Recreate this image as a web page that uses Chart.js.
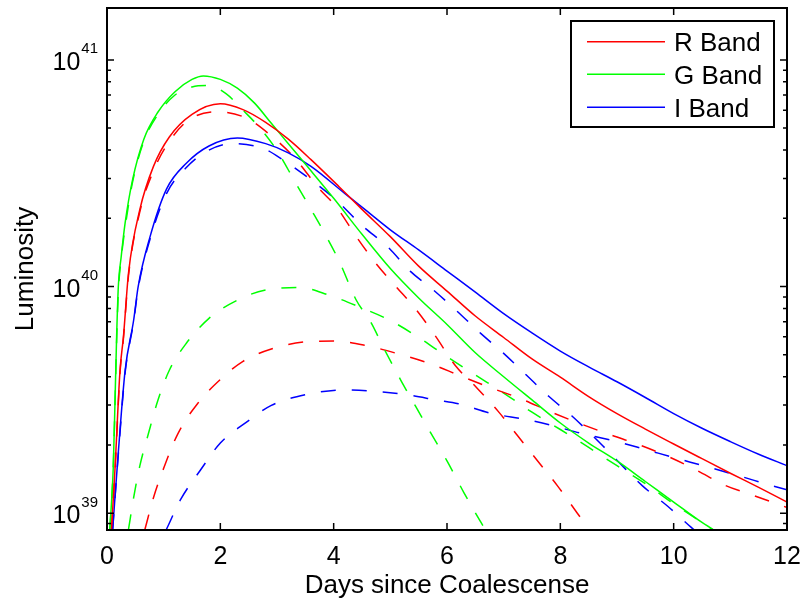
<!DOCTYPE html>
<html>
<head>
<meta charset="utf-8">
<script src="https://cdn.jsdelivr.net/npm/chart.js@4.4.0/dist/chart.umd.min.js"></script>
<style>
html,body{margin:0;padding:0;background:#fff;}
canvas{display:block;}
</style>
</head>
<body>
<canvas id="c" width="803" height="599"></canvas>
<script>
// ---- text / ticks ----
const xTitle = 'Days since Coalescense';
const yTitle = 'Luminosity';
const xTickValues = [0, 2, 4, 6, 8, 10, 12];
const yTickValues = [1e39, 1e40, 1e41];
const yTickBase = '10';
const yTickExponents = ['39', '40', '41'];
const legendLabels = ['R Band', 'G Band', 'I Band'];

// ---- series (days, luminosity) ----
// solid: total light curves
const rTotalX = [0.08,0.14,0.23,0.29,0.38,0.58,0.82,1.1,1.5,2.0,2.4,2.8,3.2,3.6,4.1,4.5,5.0,5.5,6.0,6.5,7.0,7.5,8.0,8.5,9.0,9.5,10.0,10.5,11.0,11.5,12.0];
const rTotalY = [8.5e38,1.55e39,4.27e39,6.0e39,1.15e40,2.19e40,3.39e40,4.57e40,5.75e40,6.4e40,6.03e40,5.3e40,4.47e40,3.63e40,2.75e40,2.19e40,1.66e40,1.23e40,9.55e39,7.41e39,5.96e39,4.79e39,3.98e39,3.27e39,2.75e39,2.35e39,2.02e39,1.74e39,1.5e39,1.3e39,1.12e39];

const gTotalX = [0.05,0.08,0.11,0.14,0.17,0.2,0.25,0.32,0.45,0.65,0.9,1.2,1.5,1.7,2.0,2.3,2.6,2.9,3.2,3.5,4.0,4.5,5.0,5.5,6.0,6.5,7.0,7.5,8.0,8.5,9.0,9.5,10.0,10.5,11.0];
const gTotalY = [8.5e38,1.12e39,1.58e39,3.02e39,6.03e39,1.0e40,1.35e40,1.91e40,2.95e40,4.47e40,5.89e40,7.24e40,8.2e40,8.5e40,8.2e40,7.5e40,6.46e40,5.25e40,4.27e40,3.47e40,2.45e40,1.7e40,1.2e40,8.9e39,6.8e39,5.1e39,4.0e39,3.16e39,2.5e39,2.04e39,1.7e39,1.38e39,1.12e39,9.1e38,7.6e38];

const iTotalX = [0.1,0.2,0.32,0.47,0.55,0.76,1.05,1.4,1.8,2.3,2.8,3.2,3.6,4.2,4.6,5.0,5.5,6.0,6.5,7.0,7.5,8.0,8.5,9.0,9.5,10.0,10.5,11.0,11.5,12.0];
const iTotalY = [8.5e38,1.86e39,4.27e39,7.1e39,1.0e40,1.66e40,2.69e40,3.5e40,4.17e40,4.52e40,4.27e40,3.89e40,3.39e40,2.57e40,2.14e40,1.78e40,1.45e40,1.17e40,9.44e39,7.59e39,6.24e39,5.19e39,4.42e39,3.8e39,3.24e39,2.75e39,2.37e39,2.07e39,1.82e39,1.62e39];

// dashed: early (fast) components
const rEarlyX = [0.08,0.14,0.23,0.29,0.38,0.58,0.82,1.1,1.45,1.95,2.45,2.9,3.3,3.75,4.05,4.4,4.75,5.1,5.45,5.8,6.15,6.5,6.9,7.25,7.6,7.95,8.3,8.6];
const rEarlyY = [8.5e38,1.51e39,4.17e39,5.9e39,1.12e40,2.14e40,3.24e40,4.37e40,5.45e40,5.9e40,5.55e40,4.62e40,3.72e40,2.69e40,2.24e40,1.66e40,1.26e40,1.0e40,7.94e39,6.03e39,4.47e39,3.63e39,2.82e39,2.19e39,1.7e39,1.32e39,1.0e39,7.9e38];

const gEarlyX = [0.05,0.11,0.14,0.17,0.2,0.25,0.32,0.45,0.65,0.9,1.2,1.5,1.8,2.1,2.4,2.7,3.0,3.3,3.6,3.85,4.1,4.4,4.65,4.9,5.2,5.45,5.7,6.0,6.3,6.6,6.9];
const gEarlyY = [8.5e38,1.58e39,2.95e39,5.75e39,9.5e39,1.32e40,1.82e40,2.88e40,4.37e40,5.75e40,7.0e40,7.6e40,7.7e40,7.1e40,6.0e40,5.0e40,3.98e40,2.95e40,2.19e40,1.7e40,1.29e40,8.7e39,7.0e39,5.25e39,3.8e39,2.95e39,2.29e39,1.7e39,1.23e39,9.1e38,6.8e38];

const iEarlyX = [0.1,0.2,0.32,0.47,0.55,0.76,1.05,1.4,1.75,2.2,2.75,3.1,3.55,4.05,4.5,4.95,5.35,5.75,6.15,6.6,7.0,7.4,7.8,8.2,8.7,9.05,9.45,9.9,10.3,10.5];
const iEarlyY = [8.5e38,1.82e39,4.17e39,7.0e39,9.8e39,1.62e40,2.57e40,3.35e40,3.94e40,4.27e40,4.07e40,3.63e40,3.02e40,2.4e40,1.86e40,1.5e40,1.17e40,9.7e39,7.9e39,6.2e39,5.07e39,4.07e39,3.27e39,2.69e39,2.04e39,1.66e39,1.32e39,1.07e39,8.7e38,7.9e38];

// dashed: late (slow) components
const rLateX = [0.67,0.82,1.0,1.25,1.6,2.0,2.4,2.9,3.5,4.0,4.6,5.1,5.7,6.2,6.7,7.3,7.8,8.3,8.9,9.4,9.9,10.4,10.9,11.4,12.0];
const rLateY = [8.5e38,1.17e39,1.58e39,2.24e39,3.05e39,3.89e39,4.68e39,5.3e39,5.7e39,5.75e39,5.47e39,5.08e39,4.57e39,4.07e39,3.63e39,3.2e39,2.82e39,2.51e39,2.21e39,2.0e39,1.78e39,1.55e39,1.33e39,1.2e39,1.06e39];

const gLateX = [0.38,0.47,0.58,0.73,0.9,1.1,1.4,1.8,2.3,2.8,3.4,3.9,4.5,5.0,5.5,6.0,6.5,7.0,7.5,8.0,8.5,9.0,9.5,10.0,10.5,10.8];
const gLateY = [8.5e38,1.17e39,1.62e39,2.24e39,3.16e39,4.27e39,5.62e39,7.24e39,8.71e39,9.66e39,9.9e39,9.2e39,8.04e39,7.08e39,5.96e39,4.9e39,4.07e39,3.39e39,2.79e39,2.34e39,1.95e39,1.62e39,1.35e39,1.1e39,9.1e38,8.1e38];

const iLateX = [1.05,1.3,1.65,2.0,2.45,2.9,3.5,4.2,4.8,5.4,5.8,6.2,6.8,7.4,7.9,8.4,9.0,9.5,10.0,10.6,11.2,11.7,12.0];
const iLateY = [8.5e38,1.15e39,1.55e39,2.04e39,2.51e39,2.99e39,3.33e39,3.5e39,3.44e39,3.3e39,3.16e39,3.04e39,2.75e39,2.59e39,2.42e39,2.24e39,2.07e39,1.91e39,1.76e39,1.6e39,1.45e39,1.33e39,1.27e39];

// ---- styling ----
const RED = '#ff0000', GREEN = '#00ff00', BLUE = '#0000ff';
const FONT = "'Liberation Sans', Arial, Helvetica, sans-serif";
const DASH = [15, 16];
const LW = 1.5;

function pts(xs, ys) { return xs.map((x, i) => ({ x: x, y: ys[i] })); }
function ds(label, xs, ys, color, dashed) {
  return {
    label: label,
    data: pts(xs, ys),
    borderColor: color,
    backgroundColor: color,
    borderWidth: LW,
    borderDash: dashed ? DASH : [],
    pointRadius: 0,
    fill: false,
    cubicInterpolationMode: 'monotone',
    clip: 0
  };
}

const datasets = [
  ds(legendLabels[0], rTotalX, rTotalY, RED, false),
  ds(legendLabels[1], gTotalX, gTotalY, GREEN, false),
  ds(legendLabels[2], iTotalX, iTotalY, BLUE, false),
  ds('R early', rEarlyX, rEarlyY, RED, true),
  ds('G early', gEarlyX, gEarlyY, GREEN, true),
  ds('I early', iEarlyX, iEarlyY, BLUE, true),
  ds('R late', rLateX, rLateY, RED, true),
  ds('G late', gLateX, gLateY, GREEN, true),
  ds('I late', iLateX, iLateY, BLUE, true)
];

const framePlugin = {
  id: 'matlabFrame',
  afterDraw(chart) {
    const ctx = chart.ctx;
    const a = chart.chartArea;
    const xs = chart.scales.x, ys = chart.scales.y;
    ctx.save();
    ctx.strokeStyle = '#000';
    ctx.lineWidth = 1.5;
    const major = 7, minor = 4;
    ctx.beginPath();
    xTickValues.forEach(v => {
      const px = xs.getPixelForValue(v);
      ctx.moveTo(px, a.bottom); ctx.lineTo(px, a.bottom - major);
      ctx.moveTo(px, a.top); ctx.lineTo(px, a.top + major);
    });
    for (let e = 38; e <= 41; e++) {
      for (let k = 1; k <= 9; k++) {
        const v = k * Math.pow(10, e);
        if (v < ys.min || v > ys.max) continue;
        const py = ys.getPixelForValue(v);
        const len = (k === 1) ? major : minor;
        ctx.moveTo(a.left, py); ctx.lineTo(a.left + len, py);
        ctx.moveTo(a.right, py); ctx.lineTo(a.right - len, py);
      }
    }
    ctx.stroke();
    ctx.lineWidth = 2;
    ctx.strokeRect(a.left, a.top, a.right - a.left, a.bottom - a.top);

    // y tick labels 10^n
    ctx.fillStyle = '#000';
    ctx.textBaseline = 'alphabetic';
    ctx.textAlign = 'right';
    yTickValues.forEach((v, i) => {
      const py = ys.getPixelForValue(v);
      ctx.font = '15px ' + FONT;
      const ew = ctx.measureText(yTickExponents[i]).width;
      ctx.fillText(yTickExponents[i], 98, py - 6.5);
      ctx.font = '25px ' + FONT;
      ctx.fillText(yTickBase, 98 - ew - 1, py + 10);
    });

    // legend
    const lx = 571, ly = 21, lw = 203, lh = 106;
    ctx.fillStyle = '#fff';
    ctx.fillRect(lx, ly, lw, lh);
    ctx.lineWidth = 2;
    ctx.strokeStyle = '#000';
    ctx.strokeRect(lx, ly, lw, lh);
    const rows = [41.7, 74.3, 107.3];
    const cols = [RED, GREEN, BLUE];
    ctx.textAlign = 'left';
    ctx.font = '26px ' + FONT;
    rows.forEach((ry, i) => {
      ctx.strokeStyle = cols[i];
      ctx.lineWidth = LW;
      ctx.beginPath();
      ctx.moveTo(587, ry); ctx.lineTo(665, ry);
      ctx.stroke();
      ctx.fillStyle = '#000';
      ctx.fillText(legendLabels[i], 674, ry + 9.5);
    });
    ctx.restore();
  }
};

new Chart(document.getElementById('c'), {
  type: 'line',
  data: { datasets: datasets },
  options: {
    responsive: false,
    animation: false,
    layout: { padding: { left: 0, right: 16, top: 8, bottom: 0 } },
    plugins: { legend: { display: false }, tooltip: { enabled: false } },
    scales: {
      x: {
        type: 'linear',
        min: 0, max: 12,
        afterBuildTicks: s => { s.ticks = xTickValues.map(v => ({ value: v })); },
        ticks: { autoSkip: false, maxRotation: 0, padding: 4, color: '#000', font: { family: FONT, size: 25 } },
        grid: { display: false },
        border: { display: false },
        title: { display: true, text: xTitle, color: '#000', font: { family: FONT, size: 26, lineHeight: 1.0 }, padding: { top: 0, bottom: 0 } },
        afterFit: s => { s.height = 69; s.paddingLeft = 0; s.paddingRight = 0; }
      },
      y: {
        type: 'logarithmic',
        min: 8.43e38, max: 1.694e41,
        ticks: { display: false },
        grid: { display: false },
        border: { display: false },
        title: { display: true, text: yTitle, color: '#000', font: { family: FONT, size: 26 }, padding: { top: 10, bottom: 0 } },
        afterFit: s => { s.width = 107; s.paddingTop = 0; s.paddingBottom = 0; }
      }
    }
  },
  plugins: [framePlugin]
});
</script>
</body>
</html>
